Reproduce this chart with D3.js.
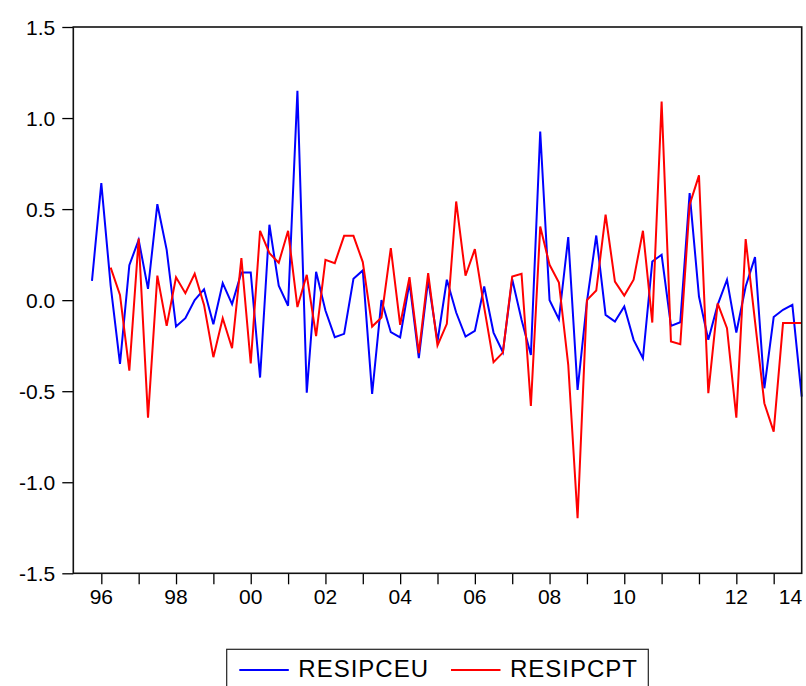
<!DOCTYPE html>
<html>
<head>
<meta charset="utf-8">
<script src="https://cdn.jsdelivr.net/npm/d3@7"></script>
<style>
    body { margin: 0; background: #fff; }
    text { font-family: "Liberation Sans", Arial, sans-serif; fill: #000; }
</style>
</head>
<body>
<div id="ResidChart"></div>
<script>

// quarterly residuals, first observation 1995Q4
let startYear = 1995;
let startQuarter = 4;

let resipceu = [0.106, 0.643, 0.08, -0.35, 0.192, 0.331, 0.062, 0.527, 0.276, -0.145,
    -0.099, 0.0, 0.06, -0.132, 0.093, -0.022, 0.152, 0.152, -0.425, 0.414,
    0.079, -0.031, 1.150, -0.508, 0.156, -0.057, -0.203, -0.185, 0.117, 0.163,
    -0.515, 0.0, -0.176, -0.205, 0.097, -0.319, 0.112, -0.227, 0.112, -0.068,
    -0.2, -0.169, 0.075, -0.178, -0.286, 0.115, -0.108, -0.301, 0.926, 0.0,
    -0.105, 0.346, -0.493, -0.01, 0.355, -0.081, -0.117, -0.035, -0.218, -0.319,
    0.212, 0.249, -0.141, -0.121, 0.588, 0.020, -0.218, -0.026, 0.112, -0.178,
    0.075, 0.236, -0.484, -0.093, -0.053, -0.026, -0.530];

// RESIPCPT begins two quarters later (1996Q2)
let resipcptOffset = 2;
let resipcpt = [0.179, 0.029, -0.387, 0.338, -0.645, 0.135, -0.141, 0.126,
    0.038, 0.145, -0.026, -0.313, -0.099, -0.264, 0.231, -0.348, 0.381, 0.258,
    0.205, 0.381, -0.038, 0.139, -0.198, 0.221, 0.203, 0.353, 0.353, 0.209,
    -0.145, -0.095, 0.286, -0.136, 0.126, -0.291, 0.148, -0.249, -0.130, 0.542,
    0.134, 0.280, -0.04, -0.341, -0.288, 0.130, 0.145, -0.581, 0.404, 0.194,
    0.097, -0.355, -1.198, 0.0, 0.053, 0.469, 0.102, 0.025, 0.112, 0.381,
    -0.123, 1.091, -0.227, -0.242, 0.524, 0.685, -0.511, -0.018, -0.154, -0.645,
    0.335, -0.117, -0.566, -0.722, -0.126, -0.126, -0.126];

let yTicks = [-1.5, -1.0, -0.5, 0.0, 0.5, 1.0, 1.5];
let xTickYears = [1996, 1997, 1998, 1999, 2000, 2001, 2002, 2003, 2004, 2005,
    2006, 2007, 2008, 2009, 2010, 2011, 2012, 2013, 2014];
// label text and the (fractional) year where EViews put it
let xLabels = ["96", "98", "00", "02", "04", "06", "08", "10", "12", "14"];
let xLabelAt = [1996, 1998, 2000, 2002, 2004, 2006, 2008, 2010, 2013, 2014.45];

let seriesNames = ["RESIPCEU", "RESIPCPT"];
let seriesColors = ["#0000ff", "#ff0000"];


let quarterTime = (i) => {
    return startYear + (startQuarter - 1) / 4 + i / 4;
};

// plain hyphen for negatives, like the original
let fmt = (v) => {
    return d3.format(".1f")(v).replace("\u2212", "-");
};

let ResidChart = () => {

    let margin = {top: 27, right: 4.3, bottom: 112.7, left: 73.3};
    let totalWidth = 806;
    let totalHeight = 686;
    let width = totalWidth - margin.left - margin.right;
    let height = totalHeight - margin.top - margin.bottom;

    let x = d3.scaleLinear()
        .domain([1995.25, 2014.75])
        .range([0, width]);

    let y = d3.scaleLinear()
        .domain([-1.5, 1.5])
        .range([height, 0]);

    let svg = d3.select('#ResidChart')
        .append('svg')
        .attr('width', totalWidth)
        .attr('height', totalHeight);

    let g = svg.append('g')
        .attr('transform', 'translate(' + margin.left + ',' + margin.top + ')');

    // y axis ticks + labels
    let yAxis = d3.axisLeft(y)
        .tickValues(yTicks)
        .tickSize(11)
        .tickPadding(7)
        .tickFormat(fmt);

    let yg = g.append('g').call(yAxis);
    yg.select('.domain').remove();
    yg.selectAll('line').attr('stroke', '#000').attr('stroke-width', 1.3);
    yg.selectAll('text')
        .style('font-size', '21px')
        .attr('dy', '0.36em');

    // x axis ticks every year
    let xAxis = d3.axisBottom(x)
        .tickValues(xTickYears)
        .tickSize(11)
        .tickFormat('');

    let xg = g.append('g')
        .attr('transform', 'translate(0,' + height + ')')
        .call(xAxis);
    xg.select('.domain').remove();
    xg.selectAll('line').attr('stroke', '#000').attr('stroke-width', 1.3);

    g.append('g')
        .selectAll('text')
        .data(xLabels)
        .enter().append('text')
            .attr('x', (d, i) => { return x(xLabelAt[i]); })
            .attr('y', height + 31)
            .attr('text-anchor', 'middle')
            .style('font-size', '21px')
            .text((d) => { return d; });

    // series
    let blueData = resipceu.map((v, i) => { return [quarterTime(i), v]; });
    let redData = resipcpt.map((v, i) => { return [quarterTime(i + resipcptOffset), v]; });

    let line = d3.line()
        .x((d) => { return x(d[0]); })
        .y((d) => { return y(d[1]); });

    g.append('path')
        .datum(blueData)
        .attr('fill', 'none')
        .attr('stroke', seriesColors[0])
        .attr('stroke-width', 2)
        .attr('d', line);

    g.append('path')
        .datum(redData)
        .attr('fill', 'none')
        .attr('stroke', seriesColors[1])
        .attr('stroke-width', 2)
        .attr('d', line);

    // frame
    g.append('rect')
        .attr('x', 0)
        .attr('y', 0)
        .attr('width', width)
        .attr('height', height)
        .attr('fill', 'none')
        .attr('stroke', '#111')
        .attr('stroke-width', 1.6);

    // legend
    let legend = svg.append('g');

    legend.append('rect')
        .attr('x', 226.7)
        .attr('y', 649.3)
        .attr('width', 421.6)
        .attr('height', 50)
        .attr('fill', 'none')
        .attr('stroke', '#222')
        .attr('stroke-width', 1.2);

    let legendX = [239.3, 451];
    seriesNames.forEach((name, i) => {
        legend.append('line')
            .attr('x1', legendX[i])
            .attr('x2', legendX[i] + 49.5)
            .attr('y1', 670)
            .attr('y2', 670)
            .attr('stroke', seriesColors[i])
            .attr('stroke-width', 2);

        legend.append('text')
            .attr('x', legendX[i] + 59)
            .attr('y', 676.7)
            .style('font-size', '24px')
            .style('letter-spacing', '1px')
            .text(name);
    });
};

ResidChart();
</script>
</body>
</html>
